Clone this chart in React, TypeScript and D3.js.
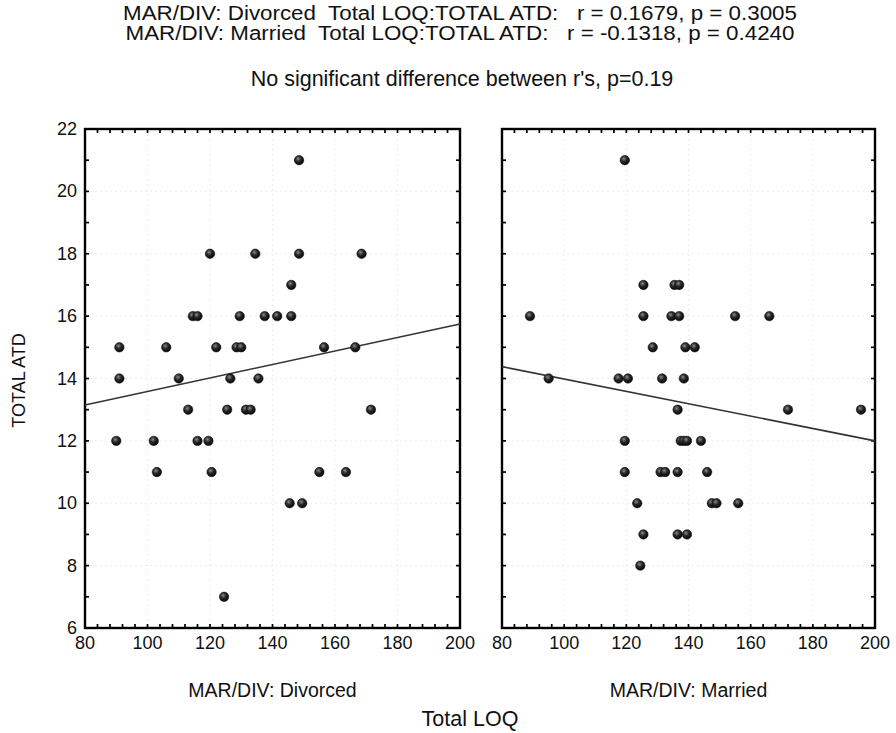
import React from "react";
import * as d3 from "d3";

const titleLines = [
  "MAR/DIV: Divorced  Total LOQ:TOTAL ATD:   r = 0.1679, p = 0.3005",
  "MAR/DIV: Married  Total LOQ:TOTAL ATD:   r = -0.1318, p = 0.4240",
];
const subtitle = "No significant difference between r's, p=0.19";
const panelNames = ["MAR/DIV: Divorced", "MAR/DIV: Married"];
const xAxisTitle = "Total LOQ";
const yAxisTitle = "TOTAL ATD";

const xTicks = [80, 100, 120, 140, 160, 180, 200];
const yTicks = [6, 8, 10, 12, 14, 16, 18, 20, 22];

const divorcedX = [91, 91, 90, 102, 103, 106, 110, 113, 114.5, 116, 116, 119.5, 120.5, 120, 122, 124.5, 125.5, 126.5, 128.5, 130, 129.5, 131.5, 133, 134.5, 135.5, 137.5, 141.5, 146, 146, 145.5, 149.5, 148.5, 148.5, 156.5, 155, 163.5, 166.5, 168.5, 171.5];
const divorcedY = [15, 14, 12, 12, 11, 15, 14, 13, 16, 16, 12, 12, 11, 18, 15, 7, 13, 14, 15, 15, 16, 13, 13, 18, 14, 16, 16, 17, 16, 10, 10, 21, 18, 15, 11, 11, 15, 18, 13];

const marriedX = [119.5, 125.5, 135.5, 137, 89, 125.5, 134.5, 137, 155, 166, 128.5, 139, 142, 95, 117.5, 120.5, 131.5, 138.5, 136.5, 172, 195.5, 119.5, 137.5, 138.5, 139.5, 144, 119.5, 131, 132.5, 136.5, 146, 123.5, 147.5, 149, 156, 125.5, 136.5, 139.5, 124.5];
const marriedY = [21, 17, 17, 17, 16, 16, 16, 16, 16, 16, 15, 15, 15, 14, 14, 14, 14, 14, 13, 13, 13, 12, 12, 12, 12, 12, 11, 11, 11, 11, 11, 10, 10, 10, 10, 9, 9, 9, 8];

const divorcedFitX = [80, 200];
const divorcedFitY = [13.15, 15.75];
const marriedFitX = [80, 200];
const marriedFitY = [14.38, 12.0];

const FONT = "'Liberation Sans', Arial, sans-serif";

type PanelProps = {
  x0: number;
  x1: number;
  xs: number[];
  ys: number[];
  fx: number[];
  fy: number[];
  name: string;
  showY: boolean;
};

const top = 129;
const bottom = 628;

function Panel({ x0, x1, xs, ys, fx, fy, name, showY }: PanelProps) {
  const x = d3.scaleLinear().domain([80, 200]).range([x0, x1]);
  const y = d3.scaleLinear().domain([6, 22]).range([bottom, top]);
  const xMinor = d3.range(80, 200.01, 4);
  const yMinor = d3.range(6, 22.01, 1);
  const line = d3
    .line<number>()
    .x((_, i) => x(fx[i]))
    .y((_, i) => y(fy[i]));
  const tl = 4;
  return (
    <g>
      {xTicks.slice(1, -1).map((t) => (
        <line key={"gx" + t} x1={x(t)} x2={x(t)} y1={top} y2={bottom} stroke="#ececec" strokeDasharray="2,3" strokeWidth={1} />
      ))}
      {yTicks.slice(1, -1).map((t) => (
        <line key={"gy" + t} x1={x0} x2={x1} y1={y(t)} y2={y(t)} stroke="#ececec" strokeDasharray="2,3" strokeWidth={1} />
      ))}
      {xMinor.map((t) => (
        <g key={"xt" + t}>
          <line x1={x(t)} x2={x(t)} y1={bottom} y2={bottom - tl} stroke="#000" strokeWidth={1.7} />
          <line x1={x(t)} x2={x(t)} y1={top} y2={top + tl} stroke="#000" strokeWidth={1.7} />
        </g>
      ))}
      {yMinor.map((t) => (
        <g key={"yt" + t}>
          <line x1={x0} x2={x0 + tl} y1={y(t)} y2={y(t)} stroke="#000" strokeWidth={1.7} />
          <line x1={x1} x2={x1 - tl} y1={y(t)} y2={y(t)} stroke="#000" strokeWidth={1.7} />
        </g>
      ))}
      <rect x={x0} y={top} width={x1 - x0} height={bottom - top} fill="none" stroke="#000" strokeWidth={2.4} />
      <path d={line(fx) || ""} fill="none" stroke="#333" strokeWidth={1.6} />
      {xs.map((v, i) => (
        <circle key={"p" + i} cx={x(v)} cy={y(ys[i])} r={4.7} fill="url(#ball)" stroke="#111" strokeWidth={0.6} />
      ))}
      {xTicks.map((t) => (
        <text key={"xl" + t} x={x(t)} y={bottom + 21} textAnchor="middle" fontSize={18} fontFamily={FONT} fill="#111">
          {t}
        </text>
      ))}
      {showY &&
        yTicks.map((t) => (
          <text key={"yl" + t} x={x0 - 8} y={y(t) + 6} textAnchor="end" fontSize={18} fontFamily={FONT} fill="#111">
            {t}
          </text>
        ))}
      <text x={(x0 + x1) / 2} y={697} textAnchor="middle" fontSize={19.5} fontFamily={FONT} fill="#111">
        {name}
      </text>
    </g>
  );
}

export default function App() {
  return (
    <svg
      width={896}
      height={733}
      viewBox="0 0 896 733"
      style={{ position: "absolute", left: 0, top: 0, display: "block", background: "#fff" }}
    >
      <defs>
        <radialGradient id="ball" cx="40%" cy="35%" r="65%">
          <stop offset="0%" stopColor="#8a8a8a" />
          <stop offset="45%" stopColor="#2a2a2a" />
          <stop offset="100%" stopColor="#050505" />
        </radialGradient>
      </defs>
      <rect x={0} y={0} width={896} height={733} fill="#fff" />
      {titleLines.map((t, i) => (
        <text
          key={"t" + i}
          x={460}
          y={20 + i * 20}
          textAnchor="middle"
          fontSize={20}
          fontFamily={FONT}
          fill="#111"
          style={{ whiteSpace: "pre" }}
          textLength={i === 0 ? 674 : 669}
          lengthAdjust="spacingAndGlyphs"
        >
          {t}
        </text>
      ))}
      <text x={462} y={86} textAnchor="middle" fontSize={21.5} fontFamily={FONT} fill="#111">
        {subtitle}
      </text>
      <Panel x0={85} x1={460} xs={divorcedX} ys={divorcedY} fx={divorcedFitX} fy={divorcedFitY} name={panelNames[0]} showY={true} />
      <Panel x0={502} x1={875} xs={marriedX} ys={marriedY} fx={marriedFitX} fy={marriedFitY} name={panelNames[1]} showY={false} />
      <text x={470} y={726} textAnchor="middle" fontSize={21.5} fontFamily={FONT} fill="#111">
        {xAxisTitle}
      </text>
      <text transform={`translate(25,${(top + bottom) / 2 + 2}) rotate(-90)`} textAnchor="middle" fontSize={18} fontFamily={FONT} fill="#111">
        {yAxisTitle}
      </text>
    </svg>
  );
}
